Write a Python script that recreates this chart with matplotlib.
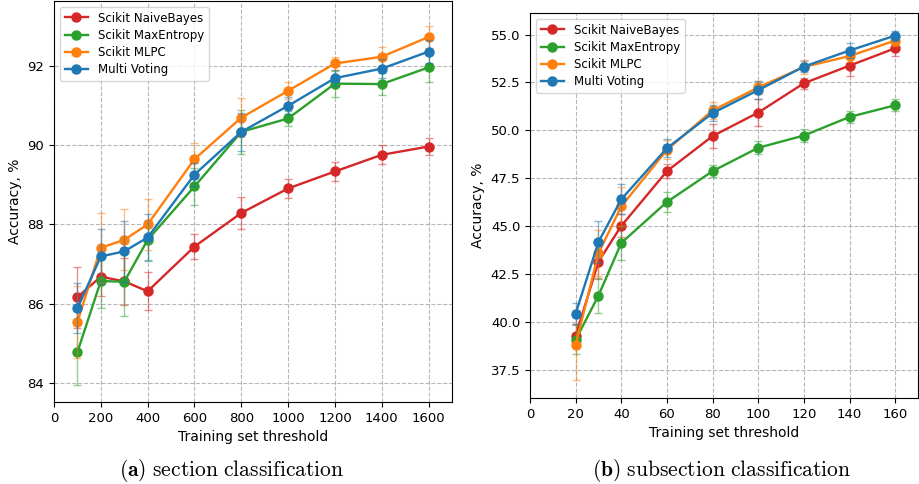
import matplotlib
matplotlib.use("Agg")
import matplotlib.pyplot as plt

# (a) section classification
sec_x = [100, 200, 300, 400, 600, 800, 1000, 1200, 1400, 1600]
sec_nb = [86.16, 86.68, 86.56, 86.31, 87.44, 88.29, 88.91, 89.34, 89.76, 89.97]
sec_nb_err = [0.77, 0.5, 0.6, 0.48, 0.31, 0.41, 0.24, 0.23, 0.24, 0.21]
sec_me = [84.77, 86.57, 86.55, 87.61, 88.96, 90.34, 90.68, 91.56, 91.55, 91.97]
sec_me_err = [0.82, 0.68, 0.86, 0.5, 0.47, 0.55, 0.2, 0.33, 0.27, 0.36]
sec_mlpc = [85.53, 87.41, 87.61, 88.0, 89.65, 90.70, 91.38, 92.07, 92.24, 92.74]
sec_mlpc_err = [0.91, 0.88, 0.77, 0.64, 0.42, 0.5, 0.21, 0.17, 0.25, 0.27]
sec_vote = [85.88, 87.19, 87.32, 87.67, 89.26, 90.34, 91.0, 91.70, 91.94, 92.37]
sec_vote_err = [0.63, 0.69, 0.77, 0.59, 0.3, 0.49, 0.21, 0.2, 0.24, 0.29]

# (b) subsection classification
sub_x = [20, 30, 40, 60, 80, 100, 120, 140, 160]
sub_nb = [39.27, 43.14, 45.01, 47.87, 49.70, 50.93, 52.46, 53.38, 54.29]
sub_nb_err = [0.6, 0.9, 0.6, 0.37, 0.61, 0.7, 0.3, 0.55, 0.43]
sub_me = [39.06, 41.37, 44.12, 46.26, 47.87, 49.09, 49.73, 50.70, 51.31]
sub_me_err = [0.75, 0.9, 0.9, 0.52, 0.3, 0.34, 0.32, 0.32, 0.32]
sub_mlpc = [38.8, 43.58, 46.03, 48.98, 51.04, 52.24, 53.31, 53.88, 54.69]
sub_mlpc_err = [1.84, 1.2, 1.0, 0.5, 0.45, 0.35, 0.35, 0.3, 0.3]
sub_vote = [40.43, 44.17, 46.40, 49.07, 50.90, 52.10, 53.33, 54.17, 54.95]
sub_vote_err = [0.57, 1.1, 0.78, 0.47, 0.4, 0.47, 0.3, 0.4, 0.26]

labels = ["Scikit NaiveBayes", "Scikit MaxEntropy", "Scikit MLPC", "Multi Voting"]
colors = ["#d62728", "#2ca02c", "#ff7f0e", "#1f77b4"]

plt.rcParams["mathtext.fontset"] = "cm"


def draw(ax, x, series, errs):
    for y, e, c, lab in zip(series, errs, colors, labels):
        ax.errorbar(x, y, yerr=e, fmt="none", ecolor=c, alpha=0.5,
                    elinewidth=1, capsize=3, capthick=1)
        ax.plot(x, y, "-o", color=c, label=lab, linewidth=1.7, markersize=6.5)
    ax.grid(True, color="#888888", linestyle="--", linewidth=0.8, alpha=0.6)
    ax.set_xlabel("Training set threshold", fontsize=10)
    ax.set_ylabel("Accuracy, %", fontsize=10)
    ax.tick_params(labelsize=9.5)
    ax.legend(loc="upper left", fontsize=8.5, handlelength=2.0,
              borderaxespad=0.5, labelspacing=0.35)


fig = plt.figure(figsize=(9.2, 4.84), dpi=100)
W, H = 920, 484

ax1 = fig.add_axes([54 / W, 1 - 402 / H, (452 - 54) / W, (402 - 1) / H])
draw(ax1, sec_x, [sec_nb, sec_me, sec_mlpc, sec_vote],
     [sec_nb_err, sec_me_err, sec_mlpc_err, sec_vote_err])
ax1.set_xlim(0, 1700)
ax1.set_ylim(83.51, 93.65)
ax1.set_xticks(range(0, 1601, 200))
ax1.set_yticks([84, 86, 88, 90, 92])

ax2 = fig.add_axes([530 / W, 1 - 398 / H, (918 - 530) / W, (398 - 13) / H])
draw(ax2, sub_x, [sub_nb, sub_me, sub_mlpc, sub_vote],
     [sub_nb_err, sub_me_err, sub_mlpc_err, sub_vote_err])
ax2.set_xlim(0, 170)
ax2.set_ylim(36.02, 56.13)
ax2.set_xticks(range(0, 161, 20))
ax2.set_yticks([37.5, 40.0, 42.5, 45.0, 47.5, 50.0, 52.5, 55.0])

fig.text(232 / W, 1 - 470 / H,
         r"$\mathbf{(a)}\ \mathrm{section\ classification}$",
         ha="center", va="center", fontsize=15.5)
fig.text(722 / W, 1 - 470 / H,
         r"$\mathbf{(b)}\ \mathrm{subsection\ classification}$",
         ha="center", va="center", fontsize=15.5)

fig.savefig("out.png", dpi=100)
